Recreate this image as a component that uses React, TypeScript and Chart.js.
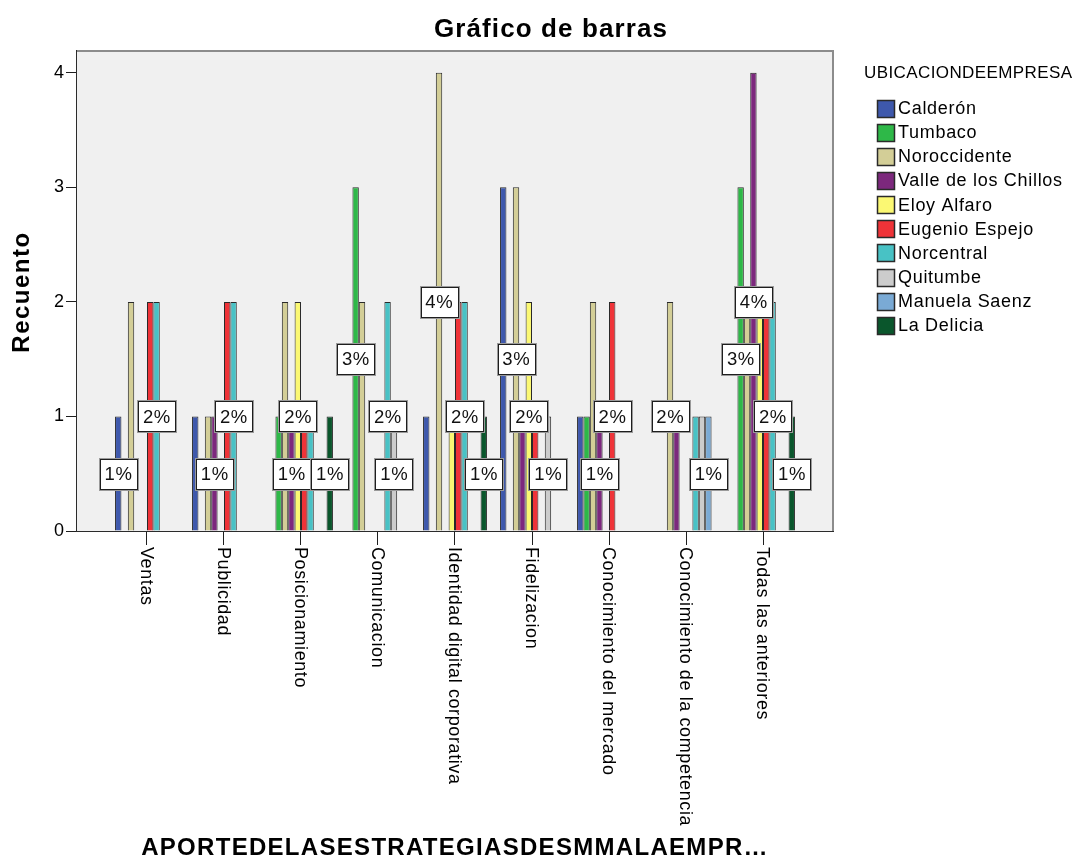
import React, { useEffect, useRef } from "react";
import { Chart, registerables } from "chart.js";

Chart.register(...registerables);

// ---- Data ----
const categories = [
  "Ventas",
  "Publicidad",
  "Posicionamiento",
  "Comunicacion",
  "Identidad digital corporativa",
  "Fidelizacion",
  "Conocimiento del mercado",
  "Conocimiento de la competencia",
  "Todas las anteriores",
];

const seriesNames = [
  "Calderón",
  "Tumbaco",
  "Noroccidente",
  "Valle de los Chillos",
  "Eloy Alfaro",
  "Eugenio Espejo",
  "Norcentral",
  "Quitumbe",
  "Manuela Saenz",
  "La Delicia",
];

const seriesColors = [
  "#3E58AC",
  "#2EB848",
  "#D3CE97",
  "#7C287D",
  "#FBF873",
  "#EF3338",
  "#48C2C5",
  "#CCCCCC",
  "#7AAAD5",
  "#0A562C",
];

const calderon = [1, 1, 0, 0, 1, 3, 1, 0, 0];
const tumbaco = [0, 0, 1, 3, 0, 0, 1, 0, 3];
const noroccidente = [2, 1, 2, 2, 4, 3, 2, 2, 2];
const valleChillos = [0, 1, 1, 0, 0, 1, 1, 1, 4];
const eloyAlfaro = [0, 0, 2, 0, 1, 2, 0, 0, 2];
const eugenioEspejo = [2, 2, 1, 0, 2, 1, 2, 0, 2];
const norcentral = [2, 2, 1, 2, 2, 0, 0, 1, 2];
const quitumbe = [0, 0, 0, 1, 0, 1, 0, 1, 0];
const manuelaSaenz = [0, 0, 0, 0, 0, 0, 0, 1, 0];
const laDelicia = [0, 0, 1, 0, 1, 0, 0, 0, 1];

const seriesValues = [
  calderon,
  tumbaco,
  noroccidente,
  valleChillos,
  eloyAlfaro,
  eugenioEspejo,
  norcentral,
  quitumbe,
  manuelaSaenz,
  laDelicia,
];

const yTicks = [0, 1, 2, 3, 4];

// which series' percentage labels remain visible in each category (others are hidden by overlap)
const shownLabels = [
  [0, 6],
  [3, 6],
  [3, 4, 9],
  [1, 6, 7],
  [2, 6, 9],
  [2, 4, 7],
  [3, 5],
  [2, 8],
  [1, 3, 6, 9],
];

const chartTitle = "Gráfico de barras";
const yTitle = "Recuento";
const xTitle = "APORTEDELASESTRATEGIASDESMMALAEMPR…";
const legendTitle = "UBICACIONDEEMPRESA";

const FONT = "'Liberation Sans', Arial, Helvetica, sans-serif";

export default function App() {
  const ref = useRef<HTMLCanvasElement>(null);

  useEffect(() => {
    const canvas = ref.current;
    if (!canvas) return;

    const spssPlugin = {
      id: "spssDecor",
      beforeDatasetsDraw(chart: any) {
        const { ctx, chartArea } = chart;
        const { left, top, right, bottom } = chartArea;
        ctx.save();
        ctx.fillStyle = "#F0F0F0";
        ctx.fillRect(left, top, right - left, bottom - top);
        ctx.strokeStyle = "#8C8C8C";
        ctx.lineWidth = 2;
        ctx.beginPath();
        ctx.moveTo(left, top);
        ctx.lineTo(right, top);
        ctx.lineTo(right, bottom);
        ctx.stroke();
        ctx.restore();
      },
      afterDatasetsDraw(chart: any) {
        const { ctx } = chart;
        const yScale = chart.scales.y;
        ctx.save();
        ctx.font = `18.5px ${FONT}`;
        (ctx as any).letterSpacing = "0.6px";
        ctx.textAlign = "center";
        ctx.textBaseline = "middle";
        shownLabels.forEach((list, c) => {
          list.forEach((s) => {
            const v = seriesValues[s][c];
            if (!v) return;
            const el = chart.getDatasetMeta(s).data[c];
            if (!el) return;
            const x = el.x;
            const y = yScale.getPixelForValue(v / 2);
            const text = `${v}%`;
            const w = Math.round(ctx.measureText(text).width + 9);
            const h = 30;
            const bx = Math.round(x - w / 2) + 0.5;
            const by = Math.round(y - h / 2) + 0.5;
            ctx.fillStyle = "#FFFFFF";
            ctx.fillRect(bx, by, w, h);
            ctx.strokeStyle = "#9A9A9A";
            ctx.lineWidth = 1;
            ctx.strokeRect(bx - 1, by - 1, w + 2, h + 2);
            ctx.strokeStyle = "#1E1E1E";
            ctx.strokeRect(bx, by, w, h);
            ctx.fillStyle = "#111111";
            ctx.fillText(text, x + 0.3, y + 1);
          });
        });
        ctx.restore();
      },
      afterDraw(chart: any) {
        const { ctx, chartArea } = chart;
        const xScale = chart.scales.x;
        ctx.save();

        // Chart title
        ctx.fillStyle = "#000";
        ctx.font = `bold 26px ${FONT}`;
        (ctx as any).letterSpacing = "1.1px";
        ctx.textAlign = "center";
        ctx.textBaseline = "middle";
        ctx.fillText(chartTitle, 551, 30);

        // Y axis title
        ctx.font = `bold 24px ${FONT}`;
        ctx.save();
        (ctx as any).letterSpacing = "1.5px";
        ctx.translate(22, 292);
        ctx.rotate(-Math.PI / 2);
        ctx.fillText(yTitle, 0, 0);
        ctx.restore();

        // X axis title
        (ctx as any).letterSpacing = "1.3px";
        ctx.fillText(xTitle, (chartArea.left + chartArea.right) / 2, 848);

        // X category labels (rotated clockwise)
        ctx.font = `18px ${FONT}`;
        (ctx as any).letterSpacing = "0.6px";
        ctx.textAlign = "left";
        ctx.textBaseline = "middle";
        categories.forEach((label, i) => {
          const x = xScale.getPixelForValue(i);
          ctx.save();
          ctx.translate(x - 1, chartArea.bottom + 16);
          ctx.rotate(Math.PI / 2);
          ctx.fillText(label, 0, 0);
          ctx.restore();
        });

        // Legend
        ctx.font = `17px ${FONT}`;
        (ctx as any).letterSpacing = "0.4px";
        ctx.textAlign = "left";
        ctx.textBaseline = "middle";
        ctx.fillText(legendTitle, 864, 73);

        ctx.font = `18px ${FONT}`;
        (ctx as any).letterSpacing = "0.7px";
        seriesNames.forEach((name, s) => {
          const cy = 108 + s * 24.15;
          const sx = 877;
          const size = 17;
          const top = Math.round(cy - size / 2) + 0.5;
          ctx.fillStyle = seriesColors[s];
          ctx.fillRect(sx + 0.5, top, size, size);
          ctx.strokeStyle = "#2A2A2A";
          ctx.lineWidth = 1.5;
          ctx.strokeRect(sx + 0.5, top, size, size);
          ctx.fillStyle = "#000";
          ctx.fillText(name, 898, cy + 1);
        });

        ctx.restore();
      },
    };

    const chart = new Chart(canvas, {
      type: "bar",
      data: {
        datasets: seriesNames.map((name, s) => ({
          label: name,
          data: categories.map((_, i) => ({
            x: i,
            y: seriesValues[s][i] === 0 ? null : seriesValues[s][i],
          })),
          backgroundColor: seriesColors[s],
          borderColor: "#2A2A2A",
          borderWidth: 1,
          borderSkipped: "start",
          categoryPercentage: 0.83,
          barPercentage: 1,
        })),
      },
      options: {
        animation: false,
        responsive: false,
        devicePixelRatio: 1,
        layout: { padding: { left: 0, top: 51, right: 241, bottom: 321 } },
        plugins: {
          legend: { display: false },
          title: { display: false },
          tooltip: { enabled: false },
        },
        scales: {
          x: {
            type: "linear",
            min: -0.909,
            max: 8.909,
            offset: false,
            afterBuildTicks: (scale: any) => {
              scale.ticks = categories.map((_, i) => ({ value: i }));
            },
            afterFit: (scale: any) => {
              scale.height = 14;
            },
            ticks: { display: false },
            grid: {
              offset: false,
              drawOnChartArea: false,
              drawTicks: true,
              tickLength: 14,
              color: "#1E1E1E",
              lineWidth: 1,
            },
            border: { display: true, color: "#2B2B2B", width: 2 },
          },
          y: {
            type: "linear",
            min: 0,
            max: 4.19,
            afterBuildTicks: (scale: any) => {
              scale.ticks = yTicks.map((v) => ({ value: v }));
            },
            afterFit: (scale: any) => {
              scale.width = 77;
            },
            ticks: {
              font: { family: FONT, size: 18 },
              color: "#000",
              padding: 2,
            },
            grid: {
              drawOnChartArea: false,
              drawTicks: true,
              tickLength: 11,
              color: "#1E1E1E",
              lineWidth: 1,
            },
            border: { display: true, color: "#2B2B2B", width: 2 },
          },
        },
      },
      plugins: [spssPlugin],
    } as any);

    return () => chart.destroy();
  }, []);

  return (
    <div
      style={{
        position: "fixed",
        left: 0,
        top: 0,
        width: 1074,
        height: 866,
        background: "#FFFFFF",
      }}
    >
      <canvas ref={ref} width={1074} height={866} style={{ display: "block" }} />
    </div>
  );
}
